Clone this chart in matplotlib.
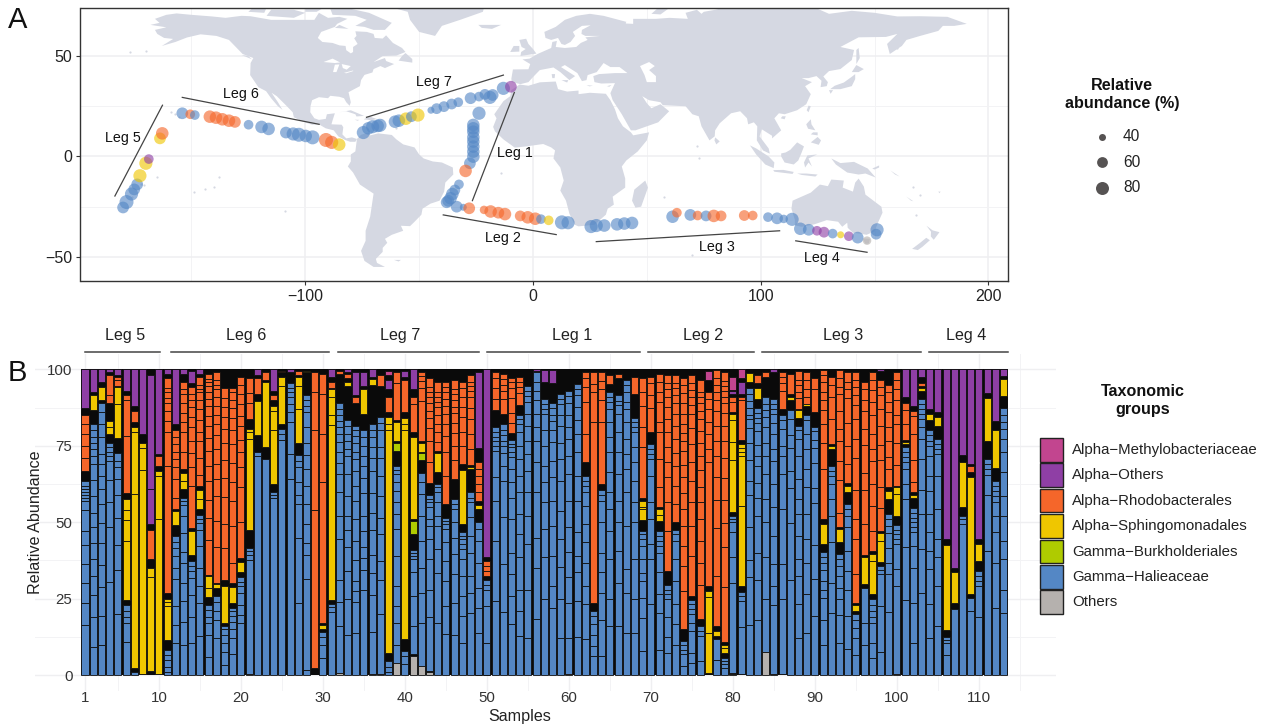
import numpy as np
import matplotlib
matplotlib.use('Agg')
import matplotlib.pyplot as plt
from matplotlib.patches import Polygon, Rectangle

plt.rcParams['font.family'] = ['Liberation Sans', 'DejaVu Sans']

# ---- land outlines (lon, lat) ----
north_america = [(-168,65.5),(-164,66.5),(-166,68.5),(-161,70.5),(-156.5,71.2),(-150,70.5),(-141,69.7),(-135,69),(-128,70),(-124,69.8),(-115,68),(-108,68),(-100,68),(-96,68),(-94,71.5),(-90,69),(-85,69.5),(-81.5,68.5),(-86,66),(-87,64.5),(-93,62),(-94.5,59),(-92.5,57),(-88,56.5),(-85,55.3),(-82.3,55),(-82,52.9),(-80,51.3),(-79,52),(-79,54.5),(-77,56),(-78.5,58.8),(-77.5,60),(-78,62.3),(-73,62),(-70,61),(-69.5,59),(-66,58.7),(-64.5,60.3),(-61.5,56.5),(-57.5,54),(-56,52),(-60,50.2),(-66,50),(-70,47),(-65,49),(-64.5,47.5),(-61,46),(-65,44),(-67,45),(-70,43.5),(-70.5,41.8),(-74,40.6),(-75.5,38),(-76,35),(-78,33.8),(-81,32),(-80,27),(-80.5,25.2),(-82,27),(-83,29),(-85,29.7),(-89,30.2),(-90,29),(-94,29.5),(-97,28),(-97.7,25),(-97.8,22),(-96,19),(-94,18.2),(-91,18.7),(-90.5,21),(-87,21.5),(-88,18),(-88.5,16),(-84,15.8),(-83.3,14.5),(-83.7,11),(-82,9),(-79.5,9.5),(-77.3,8.7),(-78,7.3),(-80.3,7.3),(-82.5,8.2),(-85.5,10),(-87.5,13),(-91,14),(-94,16),(-97,15.8),(-101,17.3),(-105,19.5),(-105.5,22),(-108.5,25.5),(-112.5,30),(-114.8,31.7),(-112,27),(-110,23.2),(-112,25),(-115,29),(-117.2,32.5),(-120.6,34.5),(-122.5,37.7),(-124.2,40.5),(-124,46.5),(-122.8,49),(-127.5,51),(-130.5,54.5),(-133.5,58),(-139,60),(-146,60.8),(-152,59.2),(-157,57),(-163,55),(-158,58.5),(-162,59),(-165,61),(-166,63),(-161,64.3)]
south_america = [(-77.3,8.7),(-75.5,10.8),(-72,12),(-71.5,10.5),(-68,11.5),(-62,10.7),(-60,8.5),(-57,6),(-52,4.5),(-50,1),(-48,-1),(-44,-2.5),(-40,-3),(-35.2,-5.5),(-35,-9),(-38.5,-13),(-39,-17.5),(-41,-22),(-45,-23.5),(-48.5,-26),(-49,-29),(-52,-32.5),(-54,-34.7),(-58,-34.5),(-57,-37),(-62,-39),(-65,-41),(-64,-43),(-66,-45.5),(-66,-47.5),(-69,-51),(-68.5,-53),(-65,-55),(-70,-55),(-74,-52),(-75.5,-47),(-73.5,-42),(-73.5,-37),(-71.5,-30),(-70,-18.5),(-76,-14),(-79,-8),(-81.3,-5),(-80,-2.5),(-80,1),(-78,2.5),(-77.5,7)]
africa = [(-5.9,35.8),(-2,35.2),(3,36.9),(10,37.3),(11,33.5),(15,32.3),(20,32.8),(20,31),(25,31.7),(32,31.2),(34,28),(36,23.5),(37.3,19),(39.5,15),(43,12),(44,10.5),(51,12),(50,8),(46,2.5),(41,-2),(39,-5),(40.5,-11),(40.5,-15.5),(35,-20),(35.5,-24),(32.8,-26),(32,-29),(27,-34),(20,-34.8),(18.3,-34),(16,-28.5),(14.5,-22),(12,-17),(13.5,-12),(12,-5.5),(9,-1),(9.7,3),(8,4.5),(4.5,6.2),(-3,5),(-8,4.4),(-13,8.5),(-16.7,12.5),(-17.5,14.7),(-16,19),(-17,21),(-13,27.5),(-10,30),(-9.5,33)]
eurasia = [(-9.3,37),(-9.5,38.7),(-8.8,43.3),(-2,43.4),(-1.2,46),(-4.6,48.3),(-1.5,48.7),(2,51),(4,52),(8,54),(8.5,57),(10.5,57.5),(10,54.5),(14,54),(19,54.5),(21,56.5),(24,58),(23,59.3),(29.5,60),(23,60),(21.3,61),(21.5,63),(25.3,65.3),(21.5,65),(17.5,62),(18.5,60),(16.5,57),(14,55.5),(12.5,56),(11,59),(8,58),(5.5,59),(5,62),(10,64.5),(14,68),(19,70),(25,71),(31,70),(41,67),(40,65),(37,64),(35,66.5),(44,66),(44,68.5),(54,68.5),(60,69),(68,68.5),(67,71.5),(72,73),(74,71),(75,72),(80,73),(87,75),(100,77),(107,76.5),(113,74),(125,73.5),(130,71),(140,72.5),(150,71.5),(160,69.7),(170,69.8),(182,69.5),(190.5,66),(185,65),(180,65),(178,62.5),(170,60),(164,58),(162,55),(156.7,51),(155.5,56),(160,61),(155,59.5),(143,59.3),(135,54.5),(141,53),(140,48),(135,43.5),(130,42.5),(127.5,39.8),(129.5,37),(129,35),(126.3,34.5),(126.7,37.7),(124.5,40),(121,39),(118,39),(122.5,37),(119.5,35),(122,31),(120,26),(116,23),(110.5,21),(108,21.5),(106,19),(109,13),(105,9),(105,10.3),(100.5,13.5),(99.5,10),(103.5,4),(104,1.4),(101,3),(98.3,8),(98.5,15),(97,17),(94.5,16),(94,19),(91,22.5),(87,21.5),(82,16.5),(80,13),(79.8,10),(77.5,8),(74,15),(72.8,20),(70,21),(67,25),(57,25.5),(56,27),(51,28),(48,30),(50,26.5),(52,24),(56,26),(59.8,22.5),(55,17),(45,13),(43,13),(39,21),(35,28),(34,31.5),(36,36.5),(30,36.3),(27,37),(26.5,40),(29,41),(36,41.5),(41.5,41.5),(38,44.5),(34,44.5),(31,46.5),(28,42),(24,40.5),(23.5,38),(21.5,37.5),(19.5,41.5),(14,45.5),(12.3,44.5),(18.5,40),(16,38),(12,42),(9,44.3),(3,43),(0,39.5),(-2,37),(-5.5,36)]
australia = [(114,-22),(113.5,-26),(115,-31.5),(115,-34.3),(118,-35),(123.5,-33.8),(129,-31.7),(134,-32.5),(135.8,-35),(138,-33),(138.2,-35.5),(140.5,-38),(144,-38.5),(146.5,-39),(150,-37.3),(151.5,-33),(153.5,-28),(153,-25),(149.5,-22),(146,-19),(145.3,-15),(143,-11),(141.5,-13),(140.5,-17.5),(136,-15.5),(136.5,-12),(131,-11.5),(129.5,-14.8),(126,-14),(122,-18),(117,-20.5)]
islands = [
    [(-73,78),(-20,80),(-22,72),(-32,68),(-40,65),(-43,60),(-50,62),(-54,68),(-55,72),(-68,76)],  # Greenland
    [(-80,73.5),(-72,71.5),(-67,69),(-62,66.5),(-65,63),(-70,63),(-74,64.5),(-78,65),(-73,68),(-78,70),(-88,70.5),(-89,73.5)],
    [(-117,70),(-105,69),(-100,71.5),(-105,73),(-115,73)], [(-125,72),(-118,71.5),(-117,74),(-123,74)],
    [(-100,72),(-95,72),(-92,74),(-100,74)], [(-87,64),(-81,63.5),(-85,65.5)],
    [(-59,47.7),(-53,46.7),(-53,48.5),(-56,51.5),(-57.5,50)], [(-128,50.5),(-123.5,48.4),(-125,50)],
    [(-85,22),(-80,23),(-74.2,20.2),(-77.5,19.9),(-78,21),(-82,22.5)], [(-74.3,18.5),(-72,20),(-68.5,18.6),(-71,18)],
    [(-78.3,18.3),(-76.3,18.2),(-77,17.8)], [(-67.2,18.4),(-65.7,18.4),(-66,18)],
    [(-61,-51.5),(-58,-51.5),(-59,-52.3)],
    [(49.3,-12),(50.5,-15.5),(47.5,-25),(45,-25.5),(43.5,-22),(44.5,-16.5)],
    [(80,9.5),(82,7.5),(80.5,6),(79.7,8)],
    [(-5.5,50),(1.5,51.2),(0,53.5),(-2,56),(-3,58.6),(-6,58),(-5,54.5),(-3.2,53.5),(-5.2,52)],
    [(-10,52),(-6,52.2),(-6,55),(-8.5,55)], [(-24,65.5),(-14,65.5),(-18,63.5),(-22.5,64)],
    [(52,71),(56,70.7),(60,74),(55,74)], [(12.5,38),(15.5,38),(15,36.8)], [(8.2,41),(9.7,41),(9.5,39),(8.5,39)],
    [(23.5,35.5),(26.3,35.2),(24.8,34.9)], [(32.5,35),(34.5,35.6),(33.5,34.7)],
    [(130.5,33.5),(135,33.5),(140,35),(141.5,38.5),(141.5,41),(139.8,39.5),(136.5,36.8),(132.5,35.2)],
    [(130,33),(131.8,33),(130.7,31.2)], [(140,42),(143,42),(145.3,43.5),(142,45.5)],
    [(142,46),(143.5,49),(143,54),(142,53)], [(120.2,23),(121,22),(122,25),(121,25.3)],
    [(108.8,19),(110.5,18.5),(111,20),(109.5,20)],
    [(120,16),(122,18.5),(122.3,16),(124,13),(120.8,13.8)], [(122,7),(125.5,5.8),(126.5,8),(125,9.7)],
    [(122,11),(125,10.5),(125,12),(123,12)],
    [(109,1.5),(111,2),(113,3.3),(116,7),(119,5),(118,2),(116.5,-2),(114.5,-4),(110.5,-3),(109,0)],
    [(95.3,5.5),(98,4),(103.5,0),(106,-3),(105.7,-5.8),(102,-4),(98,1)],
    [(105.5,-6.8),(110,-6.7),(114.5,-7.7),(114,-8.7),(106,-7.6)],
    [(119.5,-5.5),(119,-3),(120.5,0.5),(124.8,1),(121,-1),(122.5,-5),(121,-3)],
    [(116,-8.5),(120,-8.5),(125,-9),(124,-10),(118,-9.2)],
    [(131,-1),(135,-3.3),(141,-2.7),(147,-6),(150.5,-10.5),(146,-8.5),(143,-9),(138,-8),(133,-4)],
    [(149,-6),(152,-4.5),(152,-5.5),(150,-6.5)], [(157,-7),(161,-10),(159,-9)],
    [(144.7,-40.8),(148,-41),(147.5,-43.3),(146,-43.5)],
    [(172.8,-34.5),(175.5,-36.8),(178.5,-37.7),(176,-41.5),(174.7,-39.8),(174.8,-37.5)],
    [(172.7,-40.5),(174.3,-41.7),(171,-45),(169,-46.6),(166.5,-46),(170,-43)],
    [(164,-20),(167,-22.3),(166,-22)], [(178,-17.5),(179,-17.5),(178.5,-18.3)],
]
lakes = [[(47,45),(51,47),(53.5,45),(51,43),(54,40),(54,37),(50,37),(49,40.5)],
         [(-92,47),(-88,48.7),(-84.7,46.8),(-87,46.5)], [(-87.8,42),(-86.3,42),(-85,45.8),(-87,45.7)],
         [(-84,46),(-80,45),(-81.8,43.2),(-83.5,44)], [(-83,41.6),(-79,42.8),(-78.9,42.5),(-82,41.4)]]
islet_lon = [-159, -157, -155.5, -171, -172, -149, -144, -140, -138, -170, -177, -176, -165, -60, -14, 57.5, 72, 73, 167, 170, 160, 168, -109, 70]
islet_lat = [22, 21, 19.7, -14, -13.5, -17.5, -16, -15, -10, 52.5, 51.8, -20, -10, 14, -8, -20.3, 5, -1, -15, -19, 54, -29, -27, -49]

# ---- sampling stations: lon, lat, abundance, dominant group ----
# Leg 5
point_lon = [-180,-178.5,-176.3,-175.1,-173.8,-172.6,-170,-168.7,-163.8,-162.8,
# Leg 6
 -154,-150.5,-148.5,-141.9,-139.2,-136.4,-133.5,-130.9,-124.9,-119.2,-116.1,-108.5,-105.3,-102.8,-99.8,-96.8,-90.9,-88.4,-85.1,
# Leg 7
 -74.5,-72.3,-70.4,-68.2,-67.2,-60.6,-58.9,-55.8,-53.4,-50.5,-44.8,-42.3,-39.1,-35.7,-32.8,-27.4,-23.7,-21.1,-18.9,-17.7,-13,-9.7,
# Leg 1
 -23.7,-26.2,-26.2,-26.2,-26.2,-26.2,-26.2,-26.2,-26.2,-27.7,-29.6,-32.5,-34.3,-35.4,-36.2,-37.2,-37.9,-33.5,-30.6,-28,
# Leg 2
 -21.5,-18.6,-15.2,-12.3,-5.6,-2.3,1,3.5,6.9,12.7,15.4,
# Leg 3
 25.5,27.8,31.3,36.9,40.1,43.5,61.3,63.2,69.1,72.3,76,79.4,82.6,92.8,96.5,103.2,107.2,110.1,113.8,
# Leg 4
 117.4,121.1,124.7,127.8,131.6,135.1,138.7,142.6,146.7,150.7,151.1]
point_lat = [-25.4,-22.7,-18.7,-16.4,-13.9,-9.6,-3.4,-1.3,9,11.5,
 21.5,21,20.6,19.8,19.3,18.5,17.8,17.2,15.8,14.7,13.7,11.9,11.2,10.8,10.2,9.5,8.2,7,5.9,
 11.9,14,14.8,15.2,15.5,17.3,17.8,18.8,19.8,20.6,23,23.8,24.8,26.1,27,29,29.8,30.9,29.4,30.6,33.9,34.7,
 21.5,15.7,14,12.3,9.5,7.4,4.9,2.4,-0.1,-3.4,-7.2,-13.9,-16.7,-18.7,-20.8,-22.1,-22.8,-25,-25.3,-25.8,
 -26.6,-27.4,-28,-28.7,-29.6,-30.3,-31,-31.2,-31.8,-32.8,-33,
 -34.9,-34.4,-34.4,-33.8,-33.4,-33.1,-30,-28,-29.1,-29.4,-29.6,-29.6,-29.6,-29.4,-29.4,-30.2,-30.8,-31.1,-31.3,
 -36,-36.5,-37,-37.7,-38.4,-39,-39.7,-40.4,-41.9,-38.7,-36.5]
point_abundance = [57,80,70,57,57,70,70,46,57,63,
 57,46,46,63,63,63,63,57,46,63,63,57,70,80,63,80,80,70,63,
 70,63,70,63,70,63,63,63,52,70,35,52,52,52,46,57,46,52,70,57,70,57,
 70,63,63,63,63,63,63,63,63,57,63,46,52,63,63,57,57,57,35,57,
 40,63,57,63,52,63,63,46,46,80,70,
 70,70,63,63,63,63,63,46,57,46,52,63,52,52,46,46,57,40,70,
 63,57,46,52,46,35,46,57,40,52,70]
point_group = list('HHHHHSSASR' 'HRHRRRRRHHHHHHHHRRS' 'HHHHHHHSHSHHHHHHHHHHHA'
                   'HHHHHHHHHHRHHHHHHHHR' 'RRRRRRRHSHH' 'HHHHHHHRHRHRRRRHHHH' 'HHAAHSAHOHH')

leg_names = ['Leg 5', 'Leg 6', 'Leg 7', 'Leg 1', 'Leg 2', 'Leg 3', 'Leg 4']
leg_line_lon = [(-183.6,-162.7), (-154,-93.9), (-73.1,-13), (-8.2,-26.6), (-39.4,10.2), (27.8,108.3), (115.4,146.7)]
leg_line_lat = [(-19.7,25.5), (29.4,16), (19.5,40.5), (31.8,-22), (-29.1,-38.9), (-42.4,-37), (-42,-47.7)]
leg_text_lon = [-180, -128.4, -43.3, -7.8, -13, 80.8, 127]
leg_text_lat = [9, 30.9, 36.9, 1.6, -40.7, -45.2, -50.7]

# ---- bar panel: sample span of each leg ----
leg_start = [1, 11.5, 31.8, 50, 69.7, 83.6, 103.9]
leg_end = [10.2, 30.8, 49.1, 68.7, 82.6, 102.9, 113.5]
leg_label_x = [5.9, 20.6, 39.4, 60.4, 76.4, 93.4, 108.4]

# each list holds the segment boundaries (relative abundance) of one sample;
# whatever is left between groups is the mass of rare taxa, seen as black
others = {21:[0,.3], 32:[0,.8], 36:[0,.5], 37:[0,.5], 39:[0,4], 41:[0,6.2], 42:[0,3], 43:[0,1.2], 49:[0,.2], 50:[0,.2],
          60:[0,.3], 80:[0,.5], 84:[0,7.5], 85:[0,.5], 100:[0,.5]}
halieaceae = {
 1:[0,16.5,23.5,30,36.5,42.5,47,54,57,58,59,60,61,62,63.5],
 2:[0,9.3,19,26.3,32.3,38,43.3,48.4,52.9,58.6,63.8,69,71.7,74,76,78,80,82],
 3:[0,10,19.5,28.7,36,43.3,49.8,56,61,65,69,72.3,77.8,82,86,89],
 4:[0,30.4,48.4,56.6,63.8,70,71.5,73,74.5,76],
 5:[0,20,34.5,42.4,51.5,59,64.3,68,70,72.8],
 6:[0,11,17,19,21,23], 7:[0,1],
 11:[0,1,2.7,4.9,6.6,8.2],
 12:[0,10.4,16.4,22.5,31.5,35,38.9,41.6,43.5,45.5],
 13:[0,9.9,17.5,24.4,30,36.7,40.3,46.5,52,55.5,57,58],
 14:[0,10.4,19,26.3,31.8,34,35.6,37.2],
 15:[0,12.8,23.5,29,35,42.2,47.6,49.8,51,52.5],
 16:[0,6,13,17,19,21.4,23], 17:[0,12,18,21,24,26], 18:[0,3.3,7.7,10.4,13,15,16],
 19:[0,7,12,15,17.5,19.5,21,22], 20:[0,17,19.7,23,26.8,29,30.5,32],
 21:[.3,37.8,39.3,40.5,41.5], 22:[0,71.7,73], 23:[0,70.6], 24:[0,58,59,60], 25:[0,77,78.9,80.5],
 26:[0,64.3,72.3,82.7,86,88.7,91,92.5,94,95.5],
 27:[0,23.5,45,55.9,59,63,68,70,72],
 28:[0,1.6,31.5,39.4,43.3,49.3,55.9,61.9,67.4,72,76,81,86,88,90,91.5],
 30:[0,5.5,10,12.6,14], 31:[0,20.8,22.3,23.2],
 32:[.8,16,24,31.2,44.4,52,60,65.7,69.5,73,76.3,79,81,83,85,87,89],
 33:[0,13,25,34,41.8,47.6,52,58.6,65.7,71.7,74,76.7,79,81.5,83.5],
 34:[0,13.7,24,27.4,30.7,37.8,43.8,51,56.8,61.9,66.8,70.6,73,76,78.3,80,81.5],
 35:[0,28,34.5,38.3,42,47,52,59.7,64.6,68.5,71.7,75,78,80],
 36:[.5,14.2,26.3,33.4,39.4,47.6,53,59.7,66.8,71,74.5,78,80,82],
 37:[.5,20,31.2,37.2,46,51.5,58.6,65,71,74.5,80,82.5,84.5],
 38:[0,1.2,2.7,4.6],
 39:[4,10,17.2,22.6,29.2,39,47.8,52.7,56.5,60.3,63,65.8,67.2,68.5],
 40:[0,3.5,6.2,8], 41:[6.8,16,25.9,33.6,37.9,39,40,41],
 42:[3,17.2,27,35.2,44,52,59.2,63,66],
 43:[1.3,19,28,37.9,44.5,48.9,51,54.9,56.5,57.6,59],
 44:[0,17,33.5,41.2,48.9,52,56.5,59.8,61.4,62.5],
 45:[0,13.4,22.6,30.8,37.4,43.4,47.8,49.4,50.5,51.5],
 46:[0,13.3,23.7,33,39.6,45,50,54.3,56,57.6],
 47:[0,10.6,19.3,25.9,32.5,37.9,41.2,42.8,44.5,45.6,46.7],
 48:[0,20.4,27,32.5,40,45.6,51.6,56.5,58,59.8],
 49:[.2,13.9,22,28.6,36.8,44,47.8,50], 50:[.2,10.6,22.6,28,29.5,31],
 51:[0,24.3,44,57,64.7,73.4,75,76.5,78,79.5,81],
 52:[0,20.8,36.3,51.6,63.4,68.5,72.7,75,76.7,78.4,80,82],
 53:[0,16.6,25.9,33,40,51,58,63,67.4,71.3,73,74.5,75.7,76.8],
 54:[0,12.8,21,28,38.5,46,52.7,59.8,65.2,70.7,75,79.5,82.2,83.8,85],
 55:[0,12,28,42.8,52,59.8,66.9,72.3,76.7,81.6,85.4,89.3,91.3,93,94.5],
 56:[0,18.3,35.2,45,59.8,69.6,76.7,81,85.4,89.8,93,95.8,99],
 57:[.2,24.8,38.5,47.8,56.5,63,68.5,75,80,85.4,87,88.7,90.4],
 58:[.2,22,29,39,48.9,57,64.7,70,76.2,80.3,83,85.2,87.4,89],
 59:[0,12,24.8,35.5,44.5,53.8,63.6,70.7,76,81.6,85.2,88.7,90.2,91.8],
 60:[.3,12,23.5,32.2,40.4,48.3,57,65.8,71.8,77.3,81,84.9,89,91.3,93],
 61:[0,12.6,24.3,33.6,39,46.7,57,65.2,72.9,78.9,83.3,87.7,91.5,93.7,95.3],
 62:[0,11.7,23.2,29.2,36.8,43.4,49.4,55.4,59.8,62,63.6,65.2],
 63:[0,6.2,9.5,13.3,16.6,19.3,21], 64:[0,6.2,18.2,27,33.6,40,50,57,59,60.5],
 65:[0,16,24.8,37.9,47.2,54.3,59.8,66.3,72.9,77.8,82.7,87,89.3,91,92.5],
 66:[0,16,30.3,40.7,50,57,65.8,72.9,79.5,85.5,88.2,89.6,91.5],
 67:[0,13.9,27,34.6,48.9,59.8,67.4,72.4,77.3,82.7,87,89.3,92.6,94.8,96.4],
 68:[0,13.9,24.8,37.9,50,56.5,63.6,69.6,74.5,79.5,81,82.7,84],
 69:[0,7.9,18.8,25.4,30.8,33.5,37.9,42.3,44.5,46,47],
 70:[0,23.2,37.9,42.8,51,56.5,65.2,70.7,72.4,74,75.5],
 71:[0,8.4,20.4,26.4,33.6,40,42.3,44,45.6,47.2], 72:[0,7.3,12.6,19,24.8,26.4,28,29.5],
 73:[0,10,16.6,23.2,30.8,37.9,43.9,46,47.5], 74:[0,3,6.8,8.4,10,11.2],
 75:[0,4,7.3,14.4,17.2,19.9,21.5,23.2,24.5], 76:[0,4.6,12.8,14.4,16],
 78:[0,5.1,11.7], 79:[0,2.4,3.5,4.6,5.7], 80:[.6,30.3,38.5,46.7,50,51,52],
 81:[.3,15.8,24.3,25.9,27.2],
 82:[0,16.4,32.2,37.7,48.6,59,63.4,70.5,76,80.9,83.6,85.2,87.4,89.6,91.8,94],
 83:[0,18,31,39.9,51.9,57.9,62.8,68.3,71.6,75.4,79.8,82.5,84.2,85.8,87.4],
 84:[7.6,24.8,38.8,50,57.6,65.8,71.8,76,81,84.4,86.6,88.7,91],
 85:[.5,23,29,36.3,45.6,54.9,62.5,70,73.9,78.8,82.6,85.3,87,88.6,90.2],
 86:[.3,24.8,36.3,54.3,65.8,71.8,75,80.5,83.3,85], 87:[0,31,49.7,61.3,66.8,74.2,78.6,83.9,86.7],
 88:[0,12.1,23.2,32.3,37.9,45.6,52.7,57.6,64.2,71.8,77.3,80,81.5],
 89:[0,13.9,26.4,36.8,44.5,52.7,61.4,67.4,74,78.9,83.3,85],
 90:[0,19.3,31.4,42.6,56.3,61.2,69.4,74.3,77,79.8,81],
 91:[0,9.8,18,25.4,28,30.8,34.4,36.6,38.8,40.4], 92:[0,20.4,30.3,43.4,52.1,57.6,62.5,65.2,66.9,68.5],
 93:[0,10.4,19.7,24.8,28.6,32.5,35.7,37.9,39.5], 94:[0,8.7,19.3,28,34,40.6,48.3,52.1,54.3,56],
 95:[0,6.6,12,15.3,18,20], 96:[0,10,17.2,28.5], 97:[0,5.6,10.4,17,19,21,23,25], 98:[0,7.7,22.6,33,34.5,35.8],
 99:[0,20.8,33,36.8,41.5,46.5,48.8,51,52.6], 100:[.5,29.2,34.6,42.8,44.5,46,47.5,49],
 101:[0,24.6,42,57.6,62.5,67.4,69.6,71.2,73,74.5], 102:[0,10.6,23.7,35.2,42.3,46.7,48.3,50,51.5,53,54.8],
 103:[0,27,41.2,52.7,60.7,70.7,77.3,81,83.8,85.4,87,88.7,90.4],
 104:[0,12.2,23.2,34.6,40.7,46.7,52.7,60.3,65.2,71.8,75,76.7,78.4,80],
 105:[0,16,29.2,38.5,44.5,54.3,65.2,72.3,74,75.6,77.3], 106:[0,6.6,10.4,11.5,12.6], 107:[0,21.5],
 108:[0,49.4,51,52.2], 109:[0,21,25.3], 110:[0,19,29,30.8,32.5,34.2], 111:[0,40.7,59,65.6,67.4,69,70.7],
 112:[0,22,36.8,46.7,52.1,56.5,58.7,60.3,62,63.6],
 113:[0,20.4,28,37.9,44,52.1,58.7,66.3,73,77.3,80.5,82.7,85,87.2],
}
burkholderiales = {39:[73.4,76], 41:[46,50.5], 42:[70.4,72.5]}
sphingomonadales = {
 2:[86.7,91.5], 3:[90,94.3], 4:[79,81,83], 5:[77.5,88.7,94.2], 6:[24.6,44,50.7,54,57.5], 7:[2.2,59.3,79.6,81],
 8:[.5,67,74.4,76], 9:[1.4,32,35], 10:[.5,51,65,66.8], 11:[11.5,22.5,24,25], 12:[49,53.7], 13:[60.8,63.5,66],
 14:[39.4,47], 15:[54.4,57.5,60.6], 16:[25.5,28.5,32.3], 17:[28.5,29.9], 18:[17,29], 19:[23.5,28.8], 20:[33.7,37],
 21:[47.6,77.2,79.4,80.5], 22:[78.5,89.5], 23:[74.5,95.8], 24:[62.4,80.3,86.5,88], 25:[82,94.7,97.5],
 27:[76,87,94.7,97.5], 28:[99,99.5], 30:[15,16.4], 31:[24.6,81.7,84.9,91,93.6], 33:[94.5,96], 35:[85.4,93.6],
 36:[95,96.7], 38:[7.3,80.3,82,84.4], 39:[76.7,82.7], 40:[11.9,80.3,82,84], 41:[51,78], 42:[73,76], 44:[66.3,72.7],
 47:[49.4,67], 48:[67.5,68], 49:[54.3,55.6], 69:[50.7,54.3,55,57], 71:[50.5,52.5,54.3], 77:[.8,13.9,25.7,27.5],
 78:[12.8,14.4], 79:[7.3,9,10], 80:[53.4,70.2,76.2,83.3,85.4], 81:[29,55.4,71.6,73,74.2,75.6], 82:[95.9,98.9],
 83:[90.4,93.9], 87:[90,91], 88:[84,86.6], 89:[88,88.5], 91:[43,49.4], 92:[74,75], 93:[43.7,47.8], 94:[59.8,62],
 95:[21,23], 96:[29.7,38.5], 97:[26.5,37.4,39.6], 98:[37,44,46.4], 99:[57.6,60.3], 100:[52,59.1,61.4],
 101:[75.5,76.3], 102:[57.8,59], 103:[93,94], 104:[83.3,85.4], 105:[81.6,84.4], 106:[14.7,42.5], 107:[23.7,33.9],
 108:[54.9,69.6], 109:[26.7,64.7], 110:[37.4,42.8], 111:[76.7,90.6], 112:[67.7,80.3], 113:[91.3,96.7],
}
rhodobacterales = {
 1:[66.8,71,75,79,82,85], 4:[89,91.5,98], 5:[94.7,96.4,97.5], 6:[59.4,78.3,89.8,91.5], 7:[82.7,86.5], 9:[38,47.6], 10:[68.5,71.7],
 11:[26.8,68.5,79.4,83,86.5,89,90.7,92.5,94,97], 12:[54.4,58,64,68,70.6,73,75.5,78,80],
 13:[67.4,72.9,79.5,82.7,85.6,89,92,93.5,95.8], 14:[48.2,61.7,68,72.8,76.7,81,84.3,87.6,89.8,92,94.2],
 15:[61.9,65.6,71,76.7,79.4,83.3,87,89.8,92.5,93.5,95,97.5],
 16:[32.9,44.3,51.4,57.4,63.4,68.3,73.2,77.6,81.5,84.8,88,90.3,92.5,94.7,95.8,96.9,98.6],
 17:[30.3,42,50.5,58.5,64,69,74,78.5,82,85.2,88,90.8,93.5,95,96.5,99],
 18:[31,41.5,49.5,58.2,64.5,70.4,76,80.4,84.5,87.7,90.5,94], 19:[30,36.8,48.7,57,63,69.5,75.5,80,84,87.3,90,92.5,94],
 20:[38.3,50,61.5,68,73,77,81.5,84.8,88.6,92,95,97.5], 21:[83.8,89,92.2,97], 22:[92,97], 23:[96.4,99], 24:[90,91.5],
 25:[99,99.5], 27:[98.2,99.3], 29:[2.2,53.9,80,92.7,99], 30:[17,63.2,79,92,98.6], 31:[94,96], 32:[98.5,99.5], 33:[97,98.5],
 34:[89,91], 37:[94.7,98], 38:[86,91], 39:[83.3,95.5,99], 40:[86,96.4], 41:[79.5,88.5,91], 42:[76.4,89.5,93.9,96.2,97.8,99],
 43:[62.8,69.6,76.6,80.9,84,86.5,89.1,91,92.6,94.3,97], 44:[73.4,76.2,79.4,82.1,84.9,87.6,89.3,91,92.6,96],
 45:[56,65,73,78.3,82,85.4,88,90.4,92.6,94.2,96], 46:[64.2,70.2,75,79.1,82.3,85.6,87.8,90,92,93.5,96.4],
 47:[69,75,79.5,84.4,87.7,91,93.8,96], 48:[68.7,74,79,83.9,87.2,91,93,94.5,96,98], 49:[57,60,62.5,65,67.3,69.6],
 50:[32.5,34,35.7,37.4], 51:[86.6,90.3,93.9,97.2,99], 52:[85.5,90.3,93,95,96.7,98.6], 53:[79.2,82.5,85.8,90.6,94,96,97],
 54:[88.2,92.4,94.3,96,97.5], 62:[69.6,78.9,89.3,94.2,97,99], 63:[23.7,82.8,92.6,95.2,99], 64:[62.5,82.8,90,93.4,96.2,99],
 65:[95.3,98], 66:[97,98.4], 68:[91.9,97.5], 69:[58,74.5,81,88,92.6,97], 70:[79.5,87.2,91.5,95.5,97.5],
 71:[55,61.4,70.7,79.5,82.7,89.3,92.6,95.8,98.6], 72:[34,47.3,56.5,64.7,69.6,74.5,79.5,83.9,87.7,91,93.4,95.6,98],
 73:[50,55.9,61.9,68.4,72.8,77.2,81.5,85.4,89,91.7,93.8,95.4,98],
 74:[15,27.5,35.6,42.2,48.7,54.2,59.7,64.7,68.8,73.2,76.5,79.2,82,85.5,89,92.4,95,97],
 75:[26,38.9,48.7,56.5,63.6,69.6,75.6,80.9,85.4,88.3,91,93.2,95.4,98],
 76:[18.3,29.5,36.7,44,51,56.5,61.6,67,71.5,75.8,79.9,83.7,86.5,89,91,92.6,96.4],
 77:[29,69.6,74,78.9,82.7,87,90.4,92.6], 78:[16,32.5,48,57.4,64.7,71.5,76.5,81.5,86.5,89.8,92.6,94.8,97,99.7],
 79:[11,28.7,42,49.7,57.4,64.5,71,76.5,81.5,85.6,89,91,93,94.6,96.2,99], 80:[86,89.3,91], 81:[77,90,91], 83:[95.6,98],
 84:[97.5,99], 86:[87,93,95.5,97.5,99], 87:[92,98.5], 88:[87,90.5,92.5,95,96.5,99.6], 89:[88.8,91,93.5,96.5,99],
 90:[86,93.4,97], 91:[51,67.4,76,82,86.6,89.8,92.6,95.9,98,99.7], 92:[75.6,83.9,91,95,97.5],
 93:[48.3,52.9,63.8,70,76.5,80.5,86.5,91.8,94.3,97,99.7], 94:[62.8,69,75,82.4,90.5,93.5,96,99],
 95:[23.7,33,44.5,51,60.7,71,77.3,83.8,88.2,91.5,94.2,96.4,99], 96:[39.3,49.4,60.7,66.2,75.4,80.4,86.5,89.8,93.5,96],
 97:[40.6,47.2,55.4,62.5,70,74,78.9,85,89.3,93.1,96.4,99], 98:[47.2,54.8,61.4,70.5,75.4,81.4,87,91.5,94.2,96.4],
 99:[61.4,67.4,71.2,76.7,81,85.9,89.2,92.5,94.8], 100:[62,68.8,76,82,85,89.8,93.7,96.5,99], 101:[77,82.2,86.6,89],
 102:[60,63,70.5,78.8,84.7,86.5], 103:[94.5,95.5], 109:[66.5,68.5],
}
alpha_others = {
 1:[87.2,100], 2:[92.5,100], 3:[96,100], 4:[99,100], 5:[98,100], 6:[93,100], 7:[88,100], 8:[78.9,100], 9:[49.3,61,98],
 10:[72.3,100], 11:[98.6,100], 12:[82,100], 13:[98.6,100], 14:[95.6,99.5], 15:[98.6,100], 22:[98.2,100], 24:[93,100],
 26:[99,100], 31:[97.5,100], 33:[99,100], 34:[91.5,99], 35:[94.7,99], 36:[97.5,100], 38:[93.5,96.5], 40:[97.5,99.3],
 41:[93.4,100], 49:[74.2,99], 50:[38.5,100], 56:[99.3,100], 57:[96,99.7], 58:[95.6,99.7], 80:[92,93], 81:[92,96],
 85:[99,100], 98:[99.3,100], 101:[91,100], 102:[88,100], 103:[97.5,100], 104:[87,100], 105:[86,100], 106:[44.5,100],
 107:[35,100], 108:[72,100], 109:[69,100], 110:[44.5,100], 111:[92.4,100], 112:[83,100], 113:[97.8,100],
}
methylobacteriaceae = {38:[98,99.5], 77:[96.4,99.3], 80:[93.2,97.6], 81:[97,100]}

group_names = ['Alpha\u2212Methylobacteriaceae', 'Alpha\u2212Others', 'Alpha\u2212Rhodobacterales',
               'Alpha\u2212Sphingomonadales', 'Gamma\u2212Burkholderiales', 'Gamma\u2212Halieaceae', 'Others']
group_colors = ['#C2458F', '#8F3FA5', '#F5662A', '#EFC600', '#AFCB00', '#5487C5', '#B5B1AE']
group_tables = [methylobacteriaceae, alpha_others, rhodobacterales, sphingomonadales,
                burkholderiales, halieaceae, others]
point_colors = {'M': '#C2458F', 'A': '#8F3FA5', 'R': '#F5662A', 'S': '#EFC600', 'H': '#5487C5', 'O': '#B5B1AE'}

W, H = 1282, 725
land = '#D5D8E2'
fig = plt.figure(figsize=(W / 100, H / 100), dpi=100)

def px_axes(left, top, right, bottom):
    return fig.add_axes([left / W, 1 - bottom / H, (right - left) / W, (bottom - top) / H])

# ---- panel A ----
ax = px_axes(80.5, 8, 1008, 281)
ax.set_xlim(-198.7, 208.6)
ax.set_ylim(-62, 73.9)
ax.set_axisbelow(True)
ax.set_xticks([-100, 0, 100, 200])
ax.set_yticks([-50, 0, 50])
ax.set_xticks([-150, -50, 50, 150], minor=True)
ax.set_yticks([-25, 25], minor=True)
ax.grid(True, which='major', color='#EFEFF1', lw=1.1)
ax.grid(True, which='minor', color='#F3F3F5', lw=0.7)
ax.tick_params(which='minor', length=0)
ax.tick_params(which='major', labelsize=11.5, color='#333333', labelcolor='#222222', length=3, width=0.8, pad=3)
for s in ax.spines.values():
    s.set_color('#333333')
    s.set_linewidth(1.0)
for shape in [north_america, south_america, africa, eurasia, australia] + islands:
    ax.add_patch(Polygon(shape, closed=True, fc=land, ec='none', zorder=1))
for shape in lakes:
    ax.add_patch(Polygon(shape, closed=True, fc='white', ec='none', zorder=1.1))
ax.scatter(islet_lon, islet_lat, s=2.5, color=land, lw=0, zorder=1.2)

dots_px = np.interp(point_abundance, [35, 40, 60, 80], [7, 8.5, 12.3, 14])
ax.scatter(point_lon, point_lat, s=(dots_px * 0.72) ** 2, c=[point_colors[g] for g in point_group],
           alpha=0.62, lw=0, zorder=3)
for i in range(len(leg_names)):
    ax.plot(leg_line_lon[i], leg_line_lat[i], color='#444444', lw=0.9, zorder=4)
    ax.text(leg_text_lon[i], leg_text_lat[i], leg_names[i], fontsize=10.3, ha='center', va='center', color='#111111', zorder=5)

# ---- panel B ----
bx = px_axes(35, 354, 1056, 690.5)
bx.set_xlim(-5.1, 119.4)
bx.set_ylim(-5, 105)
bx.set_axisbelow(True)
for s in bx.spines.values():
    s.set_visible(False)
bx.set_xticks([1, 10, 20, 30, 40, 50, 60, 70, 80, 90, 100, 110])
bx.set_xticks([5, 15, 25, 35, 45, 55, 65, 75, 85, 95, 105, 115], minor=True)
bx.set_yticks([0, 25, 50, 75, 100])
bx.set_yticks([12.5, 37.5, 62.5, 87.5], minor=True)
bx.grid(True, which='major', color='#EFEFF1', lw=1.0)
bx.grid(True, which='minor', color='#F3F3F5', lw=0.7)
bx.tick_params(which='both', length=0)
bx.tick_params(axis='x', labelsize=10.8, labelcolor='#333333', pad=0)
bx.tick_params(axis='y', labelsize=10.8, labelcolor='#333333', pad=-27)

samples = np.arange(1, 114)
bx.bar(samples, [100] * 113, width=1, color='#0A0A0A', lw=0, zorder=2)
for table, color in zip(group_tables, group_colors):
    xs, hs, bs = [], [], []
    for sample, bounds in table.items():
        bounds = np.array(bounds, dtype=float)
        xs += [sample] * (len(bounds) - 1)
        hs += list(np.diff(bounds))
        bs += list(bounds[:-1])
    bx.bar(xs, hs, bottom=bs, width=0.86, color=color, edgecolor='#101010', lw=0.6, zorder=3)

for i in range(len(leg_names)):
    bx.plot([leg_start[i], leg_end[i]], [105.5, 105.5], color='#444444', lw=1.1, clip_on=False, zorder=4)
    bx.text(leg_label_x[i], 111, leg_names[i], fontsize=11.6, ha='center', va='center', color='#222222', clip_on=False)

# ---- labels and legends in pixel coordinates ----
ov = fig.add_axes([0, 0, 1, 1])
ov.set_xlim(0, W)
ov.set_ylim(H, 0)
ov.axis('off')
ov.patch.set_alpha(0)
ov.text(17.5, 20, 'A', fontsize=21, ha='center', va='center', color='#111111')
ov.text(17.5, 373, 'B', fontsize=21, ha='center', va='center', color='#111111')
ov.text(36, 522, 'Relative Abundance', rotation=90, fontsize=11.6, ha='center', va='center', color='#222222')
ov.text(519.5, 716, 'Samples', fontsize=11.6, ha='center', va='center', color='#222222')

ov.text(1122, 94.5, 'Relative\nabundance (%)', fontsize=11.6, fontweight='bold', ha='center', va='center', linespacing=1.2, color='#111111')
size_labels = [40, 60, 80]
size_dots = [7, 10.8, 13]
for i in range(3):
    y = 136.5 + 25.7 * i
    ov.scatter([1102], [y], s=(size_dots[i] * 0.72) ** 2, color='#4D4A4A', alpha=0.95, lw=0)
    ov.text(1123, y, str(size_labels[i]), fontsize=11.2, va='center', color='#222222')

ov.text(1143, 400.5, 'Taxonomic\ngroups', fontsize=11.6, fontweight='bold', ha='center', va='center', linespacing=1.25, color='#111111')
for i in range(7):
    y = 438 + 25.4 * i
    ov.add_patch(Rectangle((1039.5, y), 23.5, 23.5, fc=group_colors[i], ec='#222222', lw=1.0))
    ov.text(1072, y + 12, group_names[i], fontsize=10.8, va='center', color='#222222')

fig.savefig('out.png', dpi=100)
